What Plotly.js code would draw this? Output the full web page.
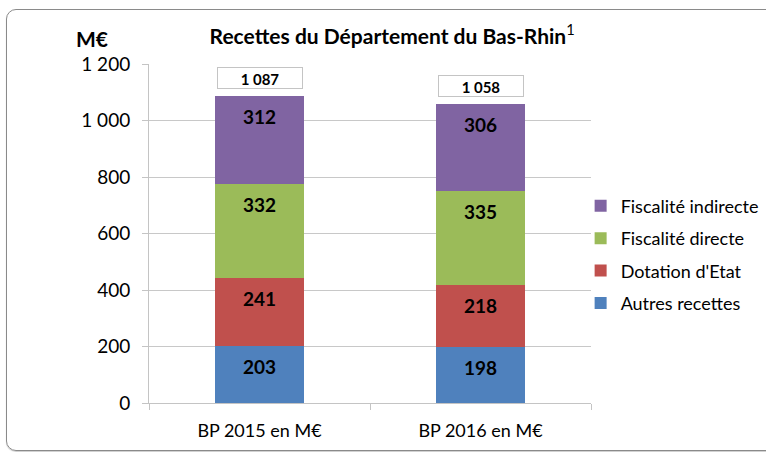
<!DOCTYPE html>
<html>
<head>
<meta charset="utf-8">
<script src="https://cdn.plot.ly/plotly-3.0.1.min.js"></script>
<style>
  html, body { margin:0; padding:0; background:#fff; }
  #frame { position:absolute; left:6px; top:9px; width:800px; height:440px;
           border:1.5px solid #8a8a8a; border-radius:10px; box-shadow:0 1px 1px #ccc; }
  #chart { position:absolute; left:0; top:0; width:766px; height:452px; }
</style>
</head>
<body>
<div id="frame"></div>
<div id="chart"></div>
<script>
const categories = ['BP 2015 en M€', 'BP 2016 en M€'];
const seriesNames = ['Autres recettes', "Dotation d'Etat", 'Fiscalité directe', 'Fiscalité indirecte'];
const autresRecettes = [203, 198];
const dotationEtat = [241, 218];
const fiscaliteDirecte = [332, 335];
const fiscaliteIndirecte = [312, 306];
const totals = [1087, 1058];
const yTicks = [0, 200, 400, 600, 800, 1000, 1200];

const colors = ['#4f81bd', '#c0504d', '#9bbb59', '#8064a2'];
const series = [autresRecettes, dotationEtat, fiscaliteDirecte, fiscaliteIndirecte];
const FONT = 'Lato, "Open Sans", sans-serif';

function fmt(n) { return String(n).replace(/\B(?=(\d{3})+(?!\d))/g, ' '); }

const traces = series.map((vals, i) => ({
  type: 'bar', x: categories, y: vals, name: seriesNames[i],
  marker: { color: colors[i], line: { width: 0 } },
  legendgroup: 'g' + i, legendrank: 10 - i, hoverinfo: 'skip'
}));

const annotations = [];
const cum = [0, 0];
series.forEach((vals) => {
  vals.forEach((v, j) => {
    cum[j] += v;
    annotations.push({
      x: categories[j], y: cum[j], xref: 'x', yref: 'y',
      text: '<b>' + v + '</b>', showarrow: false,
      yanchor: 'top', yshift: -7,
      font: { family: FONT, size: 19, color: '#000' }
    });
  });
});
totals.forEach((t, j) => {
  annotations.push({
    x: categories[j], y: t, xref: 'x', yref: 'y',
    text: '<b>' + fmt(t) + '</b>', showarrow: false,
    yanchor: 'bottom', yshift: 7, width: 84, height: 20, valign: 'bottom',
    bgcolor: '#fff', bordercolor: '#c4c4c4', borderwidth: 1, borderpad: 0,
    font: { family: FONT, size: 15, color: '#000' }
  });
});
annotations.push({
  xref: 'paper', yref: 'paper', x: -0.128, y: 1.075, xanchor: 'center', yanchor: 'middle',
  text: '<b>M€</b>', showarrow: false, font: { family: FONT, size: 21, color: '#000' }
});

const layout = {
  width: 766, height: 452,
  margin: { l: 149, r: 175, t: 64, b: 49, pad: 0, autoexpand: false },
  paper_bgcolor: 'rgba(0,0,0,0)', plot_bgcolor: 'rgba(0,0,0,0)',
  font: { family: FONT, size: 17, color: '#000' },
  separators: ', ',
  title: {
    text: '<b>Recettes du Département du Bas-Rhin</b><sup>1</sup>',
    x: 0.512, xanchor: 'center', y: 0.92, yanchor: 'middle',
    font: { family: FONT, size: 21, color: '#000' }
  },
  barmode: 'stack', bargap: 0.6,
  xaxis: {
    type: 'category', showgrid: false, showline: true, linecolor: '#c4c4c4', linewidth: 1,
    ticks: 'outside', tickson: 'boundaries', ticklen: 6, tickcolor: '#c4c4c4',
    ticklabelstandoff: 11, tickfont: { family: FONT, size: 18, color: '#000' },
    fixedrange: true
  },
  yaxis: {
    range: [0, 1200], tickvals: yTicks, ticktext: yTicks.map(fmt),
    showgrid: true, gridcolor: '#c8c8c8', gridwidth: 1,
    showline: true, linecolor: '#c4c4c4', linewidth: 1, zeroline: false,
    ticks: 'outside', ticklen: 6, tickcolor: '#c4c4c4',
    ticklabelstandoff: 8, tickfont: { family: FONT, size: 19, color: '#000' },
    fixedrange: true
  },
  showlegend: true,
  legend: {
    xref: 'container', yref: 'container',
    x: 0.758, xanchor: 'left', y: 0.585, yanchor: 'top',
    traceorder: 'grouped', tracegroupgap: 6,
    font: { family: FONT, size: 18, color: '#000' },
    bgcolor: 'rgba(0,0,0,0)', itemclick: false, itemdoubleclick: false
  },
  annotations: annotations
};

Plotly.newPlot('chart', traces, layout, { displayModeBar: false, staticPlot: true });
</script>
</body>
</html>
